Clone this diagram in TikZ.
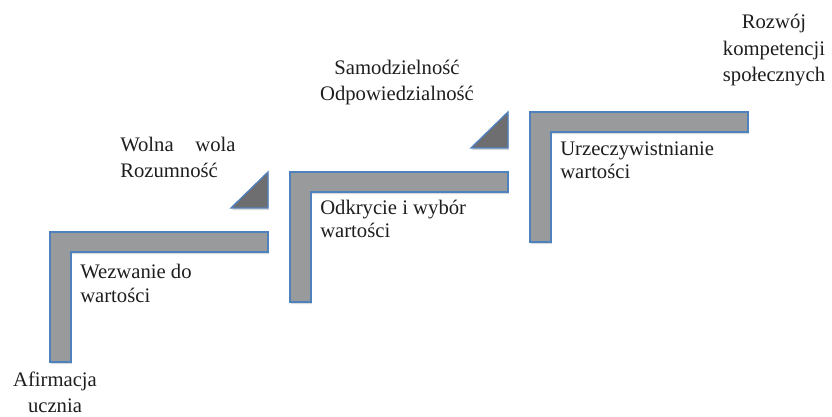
\documentclass[tikz,border=0pt]{standalone}
\usepackage{fontspec}
\setmainfont{Liberation Serif}
\usetikzlibrary{shadows}
\definecolor{stairgray}{RGB}{152,154,155}
\definecolor{wedgegray}{RGB}{110,110,113}
\definecolor{edgeblue}{RGB}{79,129,189}
\definecolor{ink}{RGB}{30,30,30}
\tikzset{
  stair/.style={fill=stairgray,draw=edgeblue,line width=1pt,line join=miter,
    drop shadow={opacity=0.3,shadow xshift=0.6pt,shadow yshift=-1.6pt}},
  wedge/.style={fill=wedgegray,draw=edgeblue,line width=1pt,
    drop shadow={opacity=0.3,shadow xshift=0.6pt,shadow yshift=-1.6pt}},
  tag/.style={font=\fontsize{15.5}{17.5}\selectfont,text=ink,inner sep=0pt,anchor=base},
  tagl/.style={tag,align=left,anchor=base west},
  tagc/.style={tag,align=center},
  tagtop/.style={tagc,font=\fontsize{15.5}{20}\selectfont},
}

\begin{document}
\begin{tikzpicture}[x=0.75pt,y=-0.75pt]
  \useasboundingbox (0,0) rectangle (832,417);
  % three steps
  \foreach \i in {0,1,2}
    \draw[stair,shift={(240*\i,-60*\i)}] (50,232) -- (268,232) -- (268,252) -- (71,252)
      -- (71,362) -- (50,362) -- cycle;
  % wedges between the steps
  \foreach \i in {1,2}
    \draw[wedge,shift={(240*\i-240,-60*\i+60)}] (231,208) -- (268,172) -- (268,208) -- cycle;

  % anchored at the baseline of the last line
  \node[tagc,font=\fontsize{15.5}{19}\selectfont] (afirm) at (55,412) {Afirmacja\\ucznia};
  \node[tagl] (wez) at (80,302) {Wezwanie do\\wartości};
  \node[tagl,font=\fontsize{15.5}{20}\selectfont] (wola) at (120,178) {Wolna\hspace{1.05em}wola\\Rozumność};
  \node[tagl] (odk) at (320,238) {Odkrycie i wybór\\wartości};
  \node[tagtop] (samo) at (397,101) {Samodzielność\\Odpowiedzialność};
  \node[tagl] (urz) at (560,179) {Urzeczywistnianie\\wartości};
  \node[tagtop] (rozw) at (774,82) {Rozwój\\kompetencji\\społecznych};
\end{tikzpicture}
\end{document}
